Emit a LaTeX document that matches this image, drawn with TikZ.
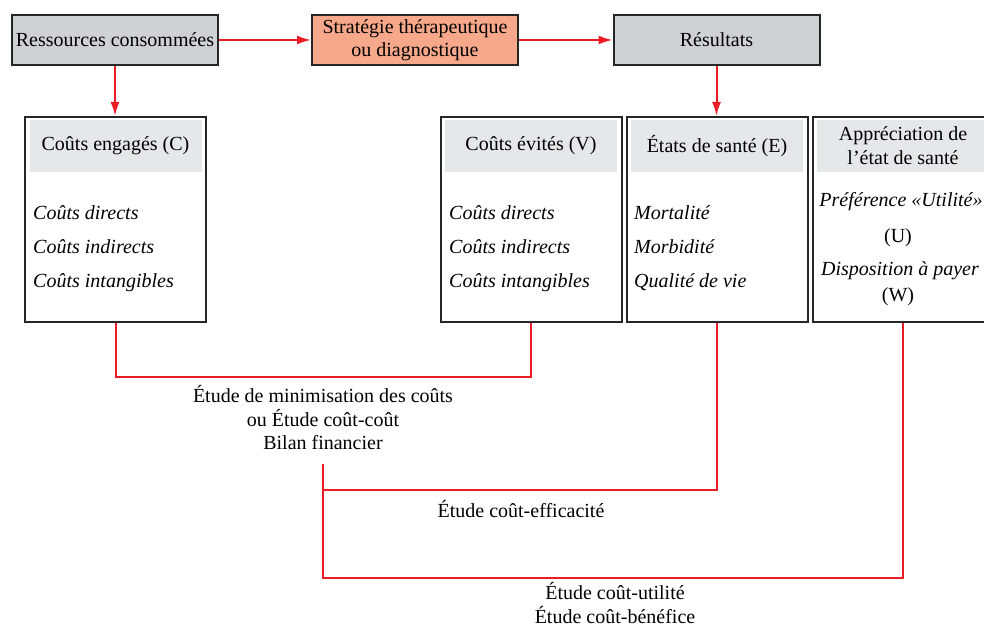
\documentclass[tikz,border=0pt]{standalone}
\usepackage[RGB]{xcolor}
\usepackage{fontspec}
\setmainfont{Liberation Serif}
\usetikzlibrary{arrows.meta}
\definecolor{R}{RGB}{237,28,36}
\definecolor{G}{RGB}{208,209,211}
\definecolor{H}{RGB}{230,231,232}
\definecolor{S}{RGB}{247,168,138}
\newcommand{\sz}{\fontsize{20}{24}\selectfont}
\tikzset{
  topbox/.style={draw=black!85, line width=2pt, minimum width=206pt, minimum height=50pt, inner sep=0pt, align=center},
  panel/.style={draw=black!85, line width=2pt, minimum width=181pt, minimum height=205pt, inner sep=0pt},
  head/.style={fill=H, minimum width=172pt, minimum height=52pt, inner sep=0pt, align=center},
  entry/.style={anchor=base west, inner sep=0pt, font=\sz\itshape},
  centry/.style={anchor=base, inner sep=0pt},
  redline/.style={draw=R, line width=2pt},
  redarrow/.style={redline, -{Latex[length=14pt,width=9pt]}},
  study/.style={align=center, inner sep=0pt, font=\fontsize{20}{23.5}\selectfont}
}
\newcommand{\costlist}[2]{
  \node[entry] (#1direct) at (#2,220) {Coûts directs};
  \node[entry] (#1indirect) at (#2,254) {Coûts indirects};
  \node[entry] (#1intang) at (#2,287) {Coûts intangibles};
}

\begin{document}
\begin{tikzpicture}[x=1pt, y=-1pt, font=\sz]
\useasboundingbox (0,0) rectangle (984,628);
\node[topbox, fill=G] (ressources) at (115,40) {Ressources consommées};
\node[topbox, fill=S, font=\fontsize{20}{23}\selectfont] (strategie) at (415,40) {Stratégie thérapeutique\\ou diagnostique};
\node[topbox, fill=G] (resultats) at (716.5,40) {Résultats};
\node[panel] (cengages) at (115.5,219.5) {};
\node[panel] (cevites) at (531,219.5) {};
\node[panel] (etats) at (717,219.5) {};
\node[panel] (appreciation) at (903,219.5) {};
\node[head] (hengages) at (cengages.north) [yshift=-30pt] {Coûts engagés (C)};
\node[head] (hevites) at (cevites.north) [yshift=-30pt] {Coûts évités (V)};
\node[head] (hetats) at (etats.north) [yshift=-30pt] {États de santé (E)};
\node[head] (happreciation) at (appreciation.north) [yshift=-30pt] {Appréciation de\\l’état de santé};
\costlist{eng}{33}
\costlist{evi}{449}
\node[entry] (mortalite) at (634,220) {Mortalité};
\node[entry] (morbidite) at (634,254) {Morbidité};
\node[entry] (qualite) at (634,287) {Qualité de vie};
\node[centry, font=\sz\itshape] (preference) at (901,207) {Préférence «Utilité»};
\node[centry] (u) at (898,242) {(U)};
\node[centry, font=\sz\itshape] (disposition) at (900,275) {Disposition à payer};
\node[centry] (w) at (898,301) {(W)};
\node[study] (minimisation) at (323,418) {Étude de minimisation des coûts\\ou Étude coût-coût\\Bilan financier};
\node[study] (efficacite) at (521,509) {Étude coût-efficacité};
\node[study] (utilite) at (615,603) {Étude coût-utilité\\Étude coût-bénéfice};
\coordinate (split) at (323,464);
\draw[redarrow] (ressources) -- (strategie);
\draw[redarrow] (strategie) -- (resultats);
\draw[redarrow] (ressources.south) -- (ressources.south |- cengages.north);
\draw[redarrow] (resultats.south) -- (resultats.south |- etats.north);
\draw[redline] (cengages.south) -- ++(0,54) -| (cevites.south);
\draw[redline] (etats.south) -- ++(0,167) -| (split);
\draw[redline] (appreciation.south) -- ++(0,255) -| (split);
\end{tikzpicture}
\end{document}
